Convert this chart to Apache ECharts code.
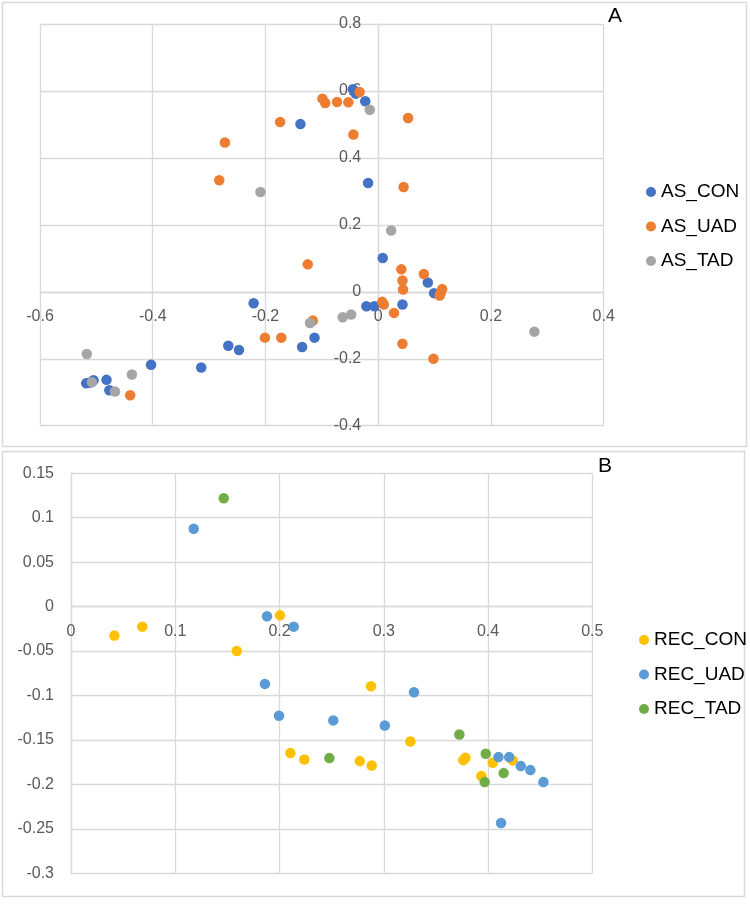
<!DOCTYPE html>
<html>
<head>
<meta charset="utf-8">
<script src="https://cdn.jsdelivr.net/npm/echarts@6/dist/echarts.min.js"></script>
<style>
html,body{margin:0;padding:0;background:#fff;}
#chart{width:750px;height:912px;}
</style>
</head>
<body>
<div id="chart"></div>
<script>
// Panel A series: [x, y]
const asCon = [
  [-0.045, 0.605], [-0.040, 0.592], [-0.023, 0.569], [-0.138, 0.501], [-0.018, 0.325],
  [0.008, 0.101], [0.088, 0.028], [0.099, -0.004], [-0.021, -0.043], [-0.007, -0.043],
  [0.043, -0.038], [-0.113, -0.137], [-0.135, -0.165], [-0.221, -0.034], [-0.266, -0.161],
  [-0.247, -0.174], [-0.314, -0.226], [-0.403, -0.218], [-0.518, -0.273], [-0.513, -0.272],
  [-0.505, -0.264], [-0.482, -0.263], [-0.477, -0.294]
];
const asUad = [
  [-0.033, 0.597], [-0.099, 0.577], [-0.094, 0.564], [-0.073, 0.567], [-0.053, 0.566],
  [-0.174, 0.507], [-0.044, 0.470], [-0.272, 0.446], [-0.282, 0.333], [0.053, 0.519],
  [0.045, 0.313], [-0.125, 0.082], [0.041, 0.067], [0.043, 0.034], [0.044, 0.007],
  [0.081, 0.053], [0.1135, 0.008], [0.109, -0.011], [0.111, -0.002], [0.007, -0.030],
  [0.010, -0.038], [0.028, -0.063], [-0.116, -0.086], [0.043, -0.155], [0.098, -0.200],
  [-0.201, -0.137], [-0.172, -0.137], [-0.440, -0.309]
];
const asTad = [
  [-0.015, 0.544], [-0.209, 0.298], [0.023, 0.183], [-0.063, -0.076], [-0.048, -0.068],
  [-0.121, -0.093], [0.277, -0.119], [-0.517, -0.186], [-0.437, -0.247], [-0.508, -0.270],
  [-0.467, -0.298]
];
// Panel B series: [x, y]
const recCon = [
  [0.0416, -0.0326], [0.0684, -0.0225], [0.159, -0.050], [0.2005, -0.0098], [0.2104, -0.1648],
  [0.2238, -0.172], [0.277, -0.1738], [0.2884, -0.1787], [0.2878, -0.0895], [0.3255, -0.1517],
  [0.3763, -0.1727], [0.3783, -0.170], [0.4045, -0.1756], [0.4237, -0.173], [0.3936, -0.1906]
];
const recUad = [
  [0.1177, 0.0876], [0.188, -0.0109], [0.2136, -0.0225], [0.186, -0.0869], [0.1995, -0.1228],
  [0.2516, -0.128], [0.329, -0.0963], [0.301, -0.1337], [0.410, -0.1693], [0.4203, -0.1693],
  [0.4314, -0.1794], [0.4406, -0.1839], [0.4531, -0.1974], [0.4125, -0.2435]
];
const recTad = [
  [0.1465, 0.122], [0.2478, -0.1704], [0.3725, -0.1438], [0.3978, -0.1655], [0.415, -0.1873],
  [0.3968, -0.1974]
];
// Axis ranges: [min, max, interval]
const axisAx = [-0.6, 0.4, 0.2];
const axisAy = [-0.4, 0.8, 0.2];
const axisBx = [0, 0.5, 0.1];
const axisBy = [-0.3, 0.15, 0.05];

const FONT = '"Liberation Sans", Arial, sans-serif';
const gridColor = '#d9d9d9';

const gridA = { left: 40, top: 24, width: 563.7, height: 401.7 };
const gridB = { left: 71, top: 473.3, width: 521.3, height: 400 };

// place an axis where the other axis has value 0 (Excel "axis crosses at 0")
function zeroFrac(r) { return (0 - r[0]) / (r[1] - r[0]); }

function valAxis(idx, r, pos, offset) {
  return {
    type: 'value', gridIndex: idx, min: r[0], max: r[1], interval: r[2],
    position: pos, offset: offset,
    axisLine: { show: true, onZero: false, lineStyle: { color: gridColor, width: 1.3 } },
    axisTick: { show: false },
    splitLine: { show: true, lineStyle: { color: gridColor, width: 1.3 } },
    axisLabel: { color: '#595959', fontSize: 16, fontFamily: FONT, margin: 17 }
  };
}

const chart = echarts.init(document.getElementById('chart'), null, { renderer: 'canvas' });
const sym = 10.5;
chart.setOption({
  animation: false,
  backgroundColor: '#fff',
  title: [
    { text: 'A', left: 603, top: 1, textStyle: { fontSize: 21, fontWeight: 'normal', color: '#000', fontFamily: FONT } },
    { text: 'B', left: 593, top: 451, textStyle: { fontSize: 21, fontWeight: 'normal', color: '#000', fontFamily: FONT } }
  ],
  graphic: [
    { type: 'rect', shape: { x: 2.5, y: 2.5, width: 744, height: 444 }, style: { fill: 'none', stroke: '#d9d9d9', lineWidth: 1.5 }, silent: true, z: -1 },
    { type: 'rect', shape: { x: 2.5, y: 451.5, width: 742, height: 445 }, style: { fill: 'none', stroke: '#d9d9d9', lineWidth: 1.5 }, silent: true, z: -1 }
  ],
  legend: [
    {
      data: ['AS_CON', 'AS_UAD', 'AS_TAD'], orient: 'vertical', left: 641, top: 177,
      icon: 'circle', itemWidth: 10, itemHeight: 10, itemGap: 14.5,
      textStyle: { fontSize: 19, color: '#000', fontFamily: FONT, lineHeight: 20 }
    },
    {
      data: ['REC_CON', 'REC_UAD', 'REC_TAD'], orient: 'vertical', left: 634, top: 625,
      icon: 'circle', itemWidth: 10, itemHeight: 10, itemGap: 14.5,
      textStyle: { fontSize: 19, color: '#000', fontFamily: FONT, lineHeight: 20 }
    }
  ],
  grid: [gridA, gridB],
  xAxis: [
    valAxis(0, axisAx, 'bottom', -zeroFrac(axisAy) * gridA.height),
    valAxis(1, axisBx, 'bottom', -zeroFrac(axisBy) * gridB.height)
  ],
  yAxis: [
    valAxis(0, axisAy, 'left', -zeroFrac(axisAx) * gridA.width),
    valAxis(1, axisBy, 'left', -zeroFrac(axisBx) * gridB.width)
  ],
  series: [
    { name: 'AS_CON', type: 'scatter', xAxisIndex: 0, yAxisIndex: 0, data: asCon, symbolSize: sym, itemStyle: { color: '#4472C4', opacity: 1 } },
    { name: 'AS_UAD', type: 'scatter', xAxisIndex: 0, yAxisIndex: 0, data: asUad, symbolSize: sym, itemStyle: { color: '#ED7D31', opacity: 1 } },
    { name: 'AS_TAD', type: 'scatter', xAxisIndex: 0, yAxisIndex: 0, data: asTad, symbolSize: sym, itemStyle: { color: '#A5A5A5', opacity: 1 } },
    { name: 'REC_CON', type: 'scatter', xAxisIndex: 1, yAxisIndex: 1, data: recCon, symbolSize: sym, itemStyle: { color: '#FFC000', opacity: 1 } },
    { name: 'REC_UAD', type: 'scatter', xAxisIndex: 1, yAxisIndex: 1, data: recUad, symbolSize: sym, itemStyle: { color: '#5B9BD5', opacity: 1 } },
    { name: 'REC_TAD', type: 'scatter', xAxisIndex: 1, yAxisIndex: 1, data: recTad, symbolSize: sym, itemStyle: { color: '#70AD47', opacity: 1 } }
  ]
});
</script>
</body>
</html>
